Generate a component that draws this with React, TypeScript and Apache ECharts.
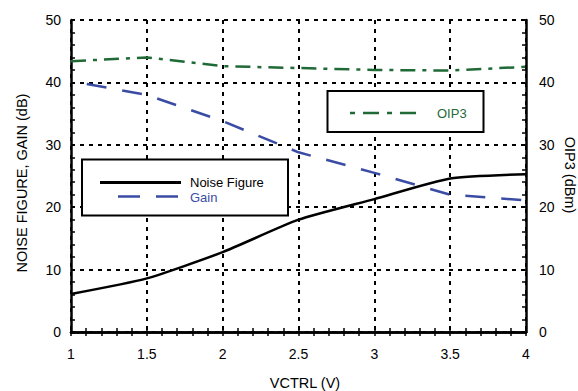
import React, { useEffect, useRef } from "react";
import * as echarts from "echarts";

const vctrl = [1, 1.5, 2, 2.5, 3, 3.5, 4];
const noiseFigure = [6.1, 8.6, 12.8, 18.0, 21.3, 24.6, 25.3];
const gain = [40.2, 38.0, 33.8, 28.8, 25.5, 22.0, 21.1];
const oip3 = [43.4, 44.0, 42.6, 42.3, 42.0, 41.9, 42.5];

const FONT = '"Liberation Sans", Arial, Helvetica, sans-serif';
const BLUE = "#3a4ca4";
const GREEN = "#1f6a36";

function pairs(xs: number[], ys: number[]) {
  return xs.map((x, i) => [x, ys[i]]);
}

export default function App() {
  const ref = useRef<HTMLDivElement>(null);
  useEffect(() => {
    if (!ref.current) return;
    const chart = echarts.init(ref.current, null, { renderer: "svg" });
    const axisLine = { show: true, lineStyle: { color: "#000", width: 2.5 } };
    const tick = { show: true, inside: true, length: 4, lineStyle: { color: "#000", width: 1.5 } };
    const minor = { show: true, splitNumber: 5, length: 4, lineStyle: { color: "#000", width: 1.5 } };
    const split = { show: true, lineStyle: { color: "#000", width: 2, type: [4, 5] as any } };
    const label = { color: "#000", fontSize: 14, fontFamily: FONT };
    chart.setOption({
      animation: false,
      grid: { left: 71, right: 52, top: 20, bottom: 59 },
      xAxis: [
        {
          type: "value", min: 1, max: 4, interval: 0.5, position: "bottom",
          axisLine, axisTick: tick, minorTick: minor, splitLine: split,
          axisLabel: { ...label, margin: 15, formatter: (v: number) => String(v) },
        },
        {
          type: "value", min: 1, max: 4, interval: 0.5, position: "top",
          axisLine, axisTick: tick, minorTick: minor, splitLine: { show: false },
          axisLabel: { show: false },
        },
      ],
      yAxis: [
        {
          type: "value", min: 0, max: 50, interval: 10, position: "left",
          axisLine, axisTick: tick, minorTick: minor, splitLine: split,
          axisLabel: { ...label, margin: 10 },
        },
        {
          type: "value", min: 0, max: 50, interval: 10, position: "right",
          axisLine, axisTick: tick, minorTick: minor, splitLine: { show: false },
          axisLabel: { ...label, margin: 13 },
        },
      ],
      series: [
        {
          name: "Noise Figure", type: "line", xAxisIndex: 0, yAxisIndex: 0,
          data: pairs(vctrl, noiseFigure), symbol: "none", smooth: 0.2, z: 5,
          lineStyle: { color: "#000", width: 2.5 },
        },
        {
          name: "Gain", type: "line", xAxisIndex: 0, yAxisIndex: 0,
          data: pairs(vctrl, gain), symbol: "none", z: 5,
          lineStyle: { color: BLUE, width: 2.5, type: [20, 16], dashOffset: 20 },
        },
        {
          name: "OIP3", type: "line", xAxisIndex: 0, yAxisIndex: 1,
          data: pairs(vctrl, oip3), symbol: "none", z: 5,
          lineStyle: { color: GREEN, width: 2.5, type: [15, 7, 4, 7] },
        },
      ],
      graphic: [
        {
          type: "text", x: 305, y: 383, z: 10,
          style: { text: "VCTRL (V)", font: `14.5px ${FONT}`, fill: "#000", align: "center", verticalAlign: "middle" },
        },
        {
          type: "text", x: 22, y: 183, rotation: Math.PI / 2, z: 10,
          style: { text: "NOISE FIGURE, GAIN (dB)", font: `14.5px ${FONT}`, fill: "#000", align: "center", verticalAlign: "middle" },
        },
        {
          type: "text", x: 570, y: 175, rotation: -Math.PI / 2, z: 10,
          style: { text: "OIP3 (dBm)", font: `14.5px ${FONT}`, fill: "#000", align: "center", verticalAlign: "middle" },
        },
        {
          type: "rect", z: 20, shape: { x: 82, y: 159.5, width: 206, height: 56 },
          style: { fill: "#fff", stroke: "#000", lineWidth: 2 },
        },
        {
          type: "line", z: 21, shape: { x1: 100, y1: 182.5, x2: 181, y2: 182.5 },
          style: { stroke: "#000", lineWidth: 3 },
        },
        {
          type: "text", z: 21, x: 190, y: 182.5,
          style: { text: "Noise Figure", font: `13px ${FONT}`, fill: "#000", verticalAlign: "middle" },
        },
        {
          type: "line", z: 21, shape: { x1: 118, y1: 196.5, x2: 178, y2: 196.5 },
          style: { stroke: BLUE, lineWidth: 2.5, lineDash: [22, 16] },
        },
        {
          type: "text", z: 21, x: 190, y: 197,
          style: { text: "Gain", font: `13px ${FONT}`, fill: BLUE, verticalAlign: "middle" },
        },
        {
          type: "rect", z: 20, shape: { x: 327.5, y: 91, width: 156, height: 41 },
          style: { fill: "#fff", stroke: "#000", lineWidth: 2 },
        },
        {
          type: "line", z: 21, shape: { x1: 350, y1: 113, x2: 417, y2: 113 },
          style: { stroke: GREEN, lineWidth: 2.5, lineDash: [5, 8, 16, 8] },
        },
        {
          type: "text", z: 21, x: 437, y: 113,
          style: { text: "OIP3", font: `13px ${FONT}`, fill: GREEN, verticalAlign: "middle" },
        },
      ],
    });
    return () => chart.dispose();
  }, []);
  return <div ref={ref} style={{ width: 578, height: 391, position: "absolute", left: 0, top: 0 }} />;
}
